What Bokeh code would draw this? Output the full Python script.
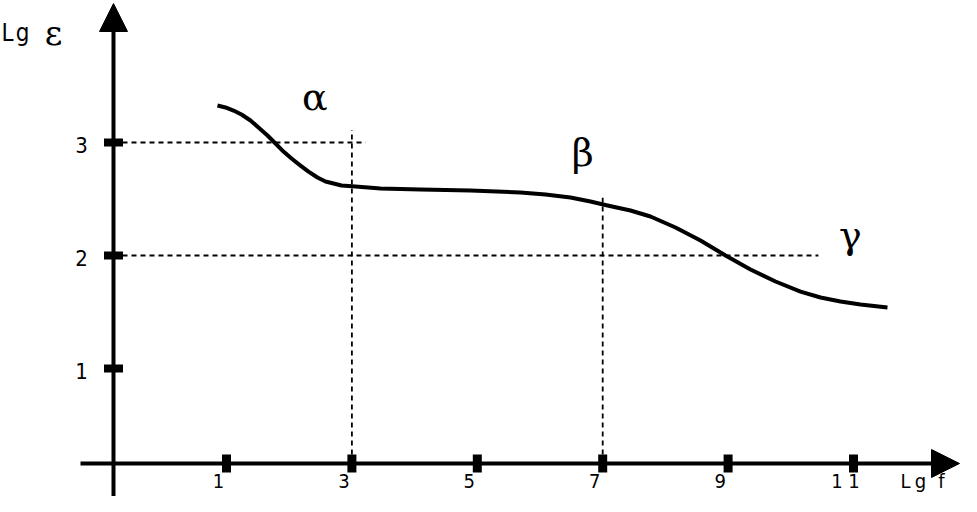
from bokeh.plotting import figure
from bokeh.models import Range1d, Arrow, NormalHead
from bokeh.core.properties import value
from bokeh.embed import file_html
from bokeh.resources import INLINE

# ---- data ----
lg_f = [0.856, 0.984, 1.112, 1.239, 1.383, 1.510, 1.654, 1.781, 1.909, 2.037,
        2.180, 2.308, 2.451, 2.579, 2.707, 2.834, 3.057, 3.456, 4.094, 4.891,
        5.689, 6.088, 6.486, 6.805, 7.077, 7.443, 7.762, 8.161, 8.560, 8.959,
        9.357, 9.756, 10.155, 10.474, 10.793, 11.112, 11.542]
lg_eps = [3.327, 3.310, 3.283, 3.248, 3.195, 3.133, 3.062, 2.991, 2.920, 2.858,
          2.796, 2.743, 2.690, 2.655, 2.637, 2.619, 2.611, 2.593, 2.584, 2.575,
          2.558, 2.540, 2.513, 2.478, 2.442, 2.398, 2.345, 2.248, 2.133, 2.000,
          1.876, 1.770, 1.681, 1.628, 1.593, 1.566, 1.540]
x_ticks = [1, 3, 5, 7, 9, 11]
x_tick_labels = ["1", "3", "5", "7", "9", "1 1"]
y_ticks = [1, 2, 3]
y_tick_labels = ["1", "2", "3"]
guide_x = [3, 7]          # vertical dotted guides
guide_x_top = [3.11, 2.51]
guide_y = [3, 2]          # horizontal dotted guides
guide_y_end = [3.22, 10.44]
region_labels = ["α", "β", "γ"]
region_x = [2.41, 6.68, 10.95]
region_y = [3.40, 2.91, 2.18]

# ---- layout calibration (picture px -> data) ----
def ix(px):
    return (px - 163.3) / 62.7

def iy(py):
    return (481 - py) / 113.0

W, H = 961, 496
p = figure(width=W, height=H, x_range=Range1d(ix(0), ix(W)),
           y_range=Range1d(iy(H), iy(0)), output_backend="svg",
           toolbar_location=None, min_border=0)
p.axis.visible = False
p.grid.visible = False
p.outline_line_color = None

AX_X = ix(113)
AX_Y = iy(463)

# dotted guides
for gx, gt in zip(guide_x, guide_x_top):
    p.segment(x0=[gx], y0=[AX_Y], x1=[gx], y1=[gt], line_color="black",
              line_width=1.8, line_dash="5 4")
for gy, ge in zip(guide_y, guide_y_end):
    p.segment(x0=[AX_X], y0=[gy], x1=[ge], y1=[gy], line_color="black",
              line_width=1.8, line_dash="5 4")

# axes with arrows
p.add_layout(Arrow(end=NormalHead(size=28, fill_color="black", line_color="black"),
                   x_start=ix(80), y_start=AX_Y, x_end=ix(959), y_end=AX_Y,
                   line_width=4, line_color="black"))
p.add_layout(Arrow(end=NormalHead(size=28, fill_color="black", line_color="black"),
                   x_start=AX_X, y_start=iy(496), x_end=AX_X, y_end=iy(3),
                   line_width=4, line_color="black"))

# tick squares
p.rect(x=x_ticks, y=[AX_Y] * len(x_ticks), width=9, height=18,
       width_units="screen", height_units="screen", fill_color="black", line_color=None)
p.rect(x=[AX_X] * len(y_ticks), y=y_ticks, width=19, height=8,
       width_units="screen", height_units="screen", fill_color="black", line_color=None)

LAT = value("'Liberation Sans Narrow', 'DejaVu Sans Condensed', 'Roboto', sans-serif")
GR = value("'DejaVu Serif', serif")

p.text(x=x_ticks, y=[iy(480)] * len(x_ticks), text=x_tick_labels, x_offset=-8,
       text_font=LAT, text_font_size="20px", text_align="center",
       text_baseline="middle", text_color="black")
p.text(x=[AX_X] * len(y_ticks), y=y_ticks, text=y_tick_labels, x_offset=-32, y_offset=2,
       text_font=LAT, text_font_size="22px", text_align="center",
       text_baseline="middle", text_color="black")

# axis names
p.text(x=[ix(7), ix(22)], y=[iy(32)] * 2, text=["L", "g"], text_font=LAT,
       text_font_size="24px", text_align="center", text_baseline="middle", text_color="black")
p.text(x=[ix(53)], y=[iy(32)], text=["ε"], text_font=GR, text_font_size="34px",
       text_align="center", text_baseline="middle", text_color="black")
p.text(x=[ix(905), ix(920), ix(941)], y=[iy(480)] * 3, text=["L", "g", "f"], text_font=LAT,
       text_font_size="20px", text_align="center", text_baseline="middle", text_color="black")

# region labels
p.text(x=region_x, y=region_y, text=region_labels, text_font=GR, text_font_size="38px",
       text_align="center", text_baseline="middle", text_color="black")

# curve
p.line(lg_f, lg_eps, line_color="black", line_width=4, line_join="round")

open("out.html", "w").write(file_html(p, INLINE))
